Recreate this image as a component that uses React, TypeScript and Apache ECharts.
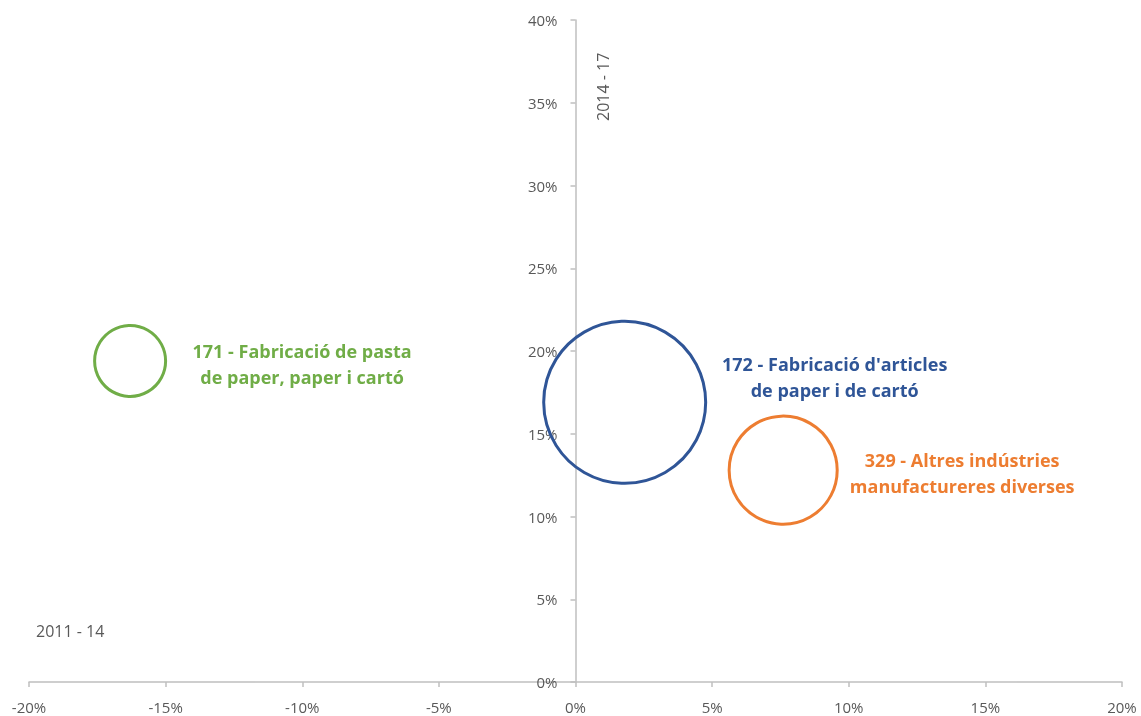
import React, { useEffect, useRef } from "react";
import * as echarts from "echarts";

const names = ["171 - Fabricació de pasta\nde paper, paper i cartó", "172 - Fabricació d'articles\nde paper i de cartó", "329 - Altres indústries\nmanufactureres diverses"];
const growth1114 = [-16.3, 1.8, 7.6];
const growth1417 = [19.4, 16.9, 12.8];
const bubbleSize = [12.6, 65.6, 29.2];
const colors = ["#70AD47", "#2F5597", "#ED7D31"];
const labelOffsets = [[172, 3], [210, -25], [179, 3]];
const xTicks = [-20, 20, 5];
const yTicks = [0, 40, 5];
const xTitle = "2011 - 14";
const yTitle = "2014 - 17";

const font = "'Open Sans', sans-serif";
const W = 1141;
const H = 716;
const G = { left: 29, right: 19, top: 20, bottom: 34 };

export default function App() {
  const ref = useRef<HTMLDivElement>(null);
  useEffect(() => {
    const chart = echarts.init(ref.current!, null, { renderer: "svg" });
    const plotW = W - G.left - G.right;
    const zeroShift = (plotW * (0 - xTicks[0])) / (xTicks[1] - xTicks[0]);
    const series = names.map((n, i) => ({
      type: "scatter",
      name: n,
      data: [[growth1114[i], growth1417[i], bubbleSize[i]]],
      symbolSize: (d: number[]) => 20 * Math.sqrt(d[2]),
      itemStyle: { color: "rgba(0,0,0,0)", borderColor: colors[i], borderWidth: 3, opacity: 1 },
      label: {
        show: true,
        position: "inside",
        offset: labelOffsets[i],
        formatter: n,
        color: colors[i],
        fontFamily: font,
        fontWeight: "bold",
        fontSize: 18,
        lineHeight: 26,
        align: "center",
      },
    }));
    chart.setOption({
      animation: false,
      grid: { ...G, containLabel: false, outerBoundsMode: "none" },
      xAxis: {
        type: "value",
        min: xTicks[0],
        max: xTicks[1],
        interval: xTicks[2],
        splitLine: { show: false },
        axisLine: { lineStyle: { color: "#BFBFBF", width: 1.5 } },
        axisTick: { show: true, length: 5, lineStyle: { color: "#BFBFBF", width: 1.5 } },
        axisLabel: { formatter: (v: number) => `${v}%`, color: "#595959", fontFamily: font, fontSize: 15, margin: 17 },
      },
      yAxis: {
        type: "value",
        min: yTicks[0],
        max: yTicks[1],
        interval: yTicks[2],
        offset: -zeroShift,
        splitLine: { show: false },
        axisLine: { onZero: false, lineStyle: { color: "#BFBFBF", width: 1.5 } },
        axisTick: { show: true, length: 5, lineStyle: { color: "#BFBFBF", width: 1.5 } },
        axisLabel: { formatter: (v: number) => `${v}%`, color: "#595959", fontFamily: font, fontSize: 15, margin: 18 },
      },
      graphic: [
        { type: "text", left: 36, top: 623, style: { text: xTitle, fill: "#595959", font: `16px ${font}` } },
        { type: "text", x: 595, y: 121, rotation: Math.PI / 2, style: { text: yTitle, fill: "#595959", font: `16px ${font}` } },
      ],
      series,
    });
    return () => chart.dispose();
  }, []);
  return <div ref={ref} style={{ position: "fixed", left: 0, top: 0, width: W, height: H }} />;
}
